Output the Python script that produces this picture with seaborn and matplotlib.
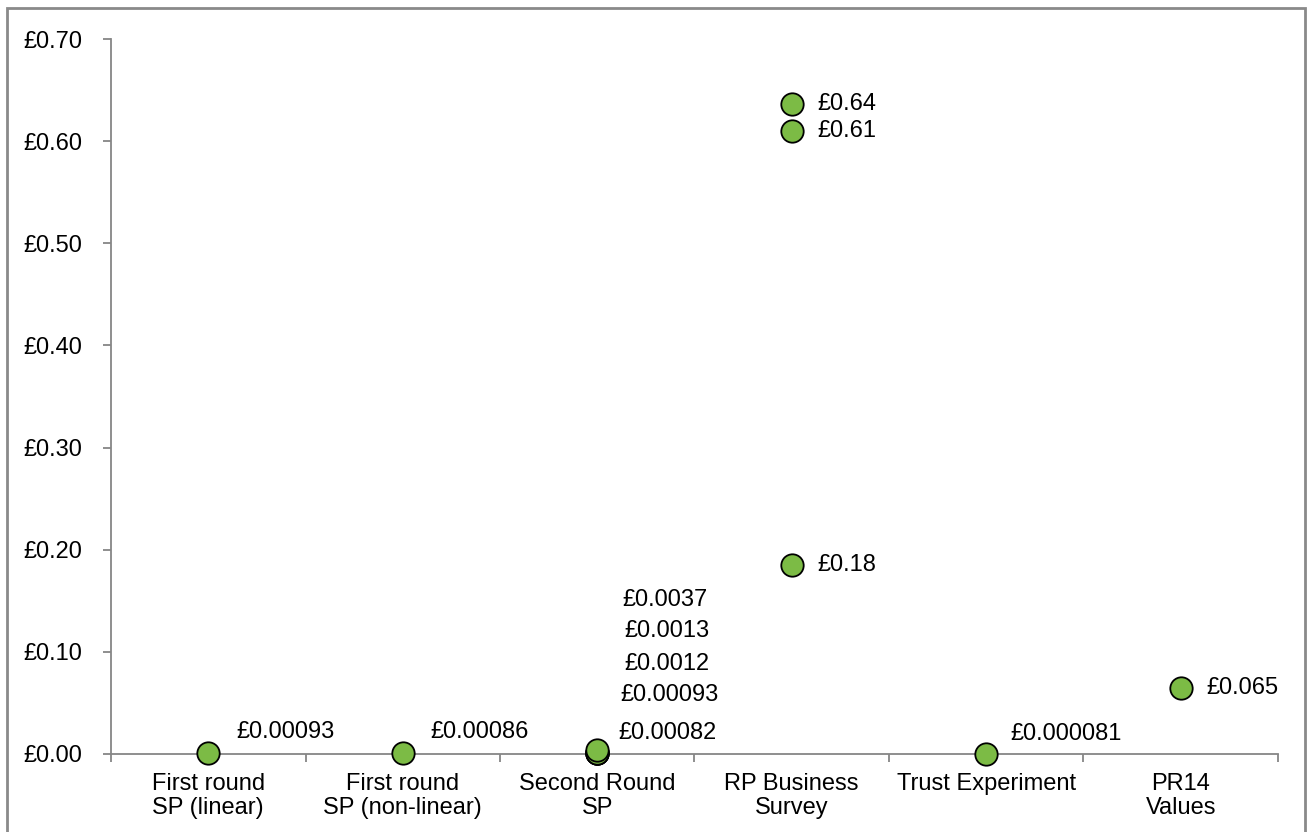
import matplotlib
matplotlib.use("Agg")
import matplotlib.pyplot as plt
import matplotlib.patches as mpatches
from matplotlib.ticker import FuncFormatter, FixedLocator
import seaborn as sns
import pandas as pd

# Category labels along the x axis
categories = [
    "First round\nSP (linear)",
    "First round\nSP (non-linear)",
    "Second Round\nSP",
    "RP Business\nSurvey",
    "Trust Experiment",
    "PR14\nValues",
]

# Each estimate: which category it belongs to, its value and its label
point_category = [0, 1, 2, 2, 2, 2, 2, 3, 3, 3, 4, 5]
point_value = [0.00093, 0.00086, 0.00082, 0.00093, 0.0012, 0.0013, 0.0037,
               0.185, 0.61, 0.636, 0.000081, 0.065]
point_label = ["£0.00093", "£0.00086", "£0.00082", "£0.00093", "£0.0012",
               "£0.0013", "£0.0037", "£0.18", "£0.61", "£0.64",
               "£0.000081", "£0.065"]

# Label placement in pixels relative to each marker (dx, dy, horizontal alignment)
label_offsets = [(28, 21, "left"), (28, 21, "left"),
                 (70, 20, "center"), (72, 58, "center"), (70, 89, "center"),
                 (70, 122, "center"), (68, 150, "center"),
                 (26, 0, "left"), (26, 0, "left"), (26, 0, "left"),
                 (24, 20, "left"), (26, 0, "left")]

df = pd.DataFrame({"pos": point_category, "value": point_value})

sns.set_style("white")
plt.rcParams["font.family"] = ["Liberation Sans", "DejaVu Sans"]

fig = plt.figure(figsize=(13.08, 8.32), dpi=100)
ax = fig.add_axes([0.0849, 0.0938, 0.977 - 0.0849, 0.9531 - 0.0938])

sns.scatterplot(data=df, x="pos", y="value", ax=ax, s=260, color="#7cbb45",
                edgecolor="black", linewidth=1.3, zorder=3, legend=False,
                clip_on=False)

for cat, val, lab, (dx, dy, ha) in zip(point_category, point_value,
                                       point_label, label_offsets):
    ax.annotate(lab, (cat, val), xytext=(dx, dy), textcoords="offset pixels",
                ha=ha, va="center", fontsize=17, color="black")

spine_color = "#868686"
ax.set_xlim(-0.5, len(categories) - 0.5)
ax.set_ylim(0, 0.70)
ax.set_yticks([i / 10 for i in range(8)])
ax.yaxis.set_major_formatter(FuncFormatter(lambda v, _: f"£{v:.2f}"))

ax.set_xticks(range(len(categories)))
ax.set_xticklabels(categories, fontsize=17, linespacing=1.08)
ax.xaxis.set_minor_locator(FixedLocator([i - 0.5 for i in range(len(categories) + 1)]))
ax.tick_params(axis="x", which="major", length=0, pad=14, labelcolor="black")
ax.tick_params(axis="x", which="minor", length=6, width=1.3, color=spine_color,
               direction="out", bottom=True)
ax.tick_params(axis="y", which="major", length=6, width=1.3, color=spine_color,
               direction="out", left=True, pad=15, labelsize=17,
               labelcolor="black")

ax.set_xlabel("")
ax.set_ylabel("")
for side in ["top", "right"]:
    ax.spines[side].set_visible(False)
for side in ["left", "bottom"]:
    ax.spines[side].set_color(spine_color)
    ax.spines[side].set_linewidth(1.3)

# Outer frame around the whole chart
fig.patches.append(mpatches.Rectangle((0.0054, -0.01), 0.9923, 1.0004,
                                      transform=fig.transFigure, fill=False,
                                      edgecolor="#8a8a8a", linewidth=2))

fig.savefig("out.png", dpi=100)
